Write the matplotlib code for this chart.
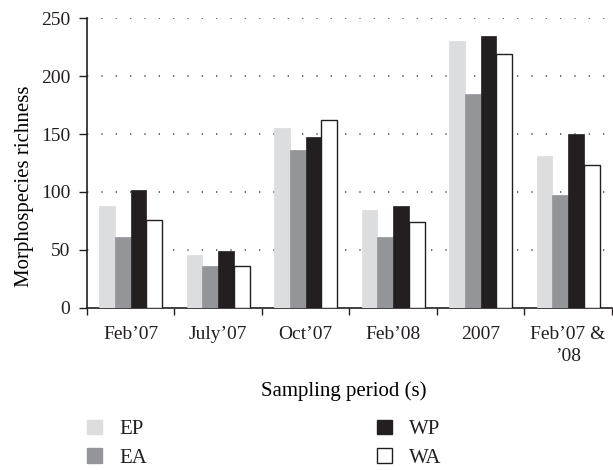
import numpy as np
import matplotlib
matplotlib.use("Agg")
import matplotlib.pyplot as plt
from matplotlib.patches import Patch

periods = ["Feb\u201907", "July\u201907", "Oct\u201907", "Feb\u201908", "2007", "Feb\u201907 &\n\u201908"]
series = ["EP", "EA", "WP", "WA"]
ep = [88, 45, 155, 84, 230, 131]
ea = [61, 36, 136, 61, 185, 97]
wp = [102, 49, 147, 88, 235, 150]
wa = [76, 36, 162, 74, 219, 123]

ink = "#231f20"
colors = ["#dcdddf", "#939598", ink, "white"]
edges = ["#dcdddf", "#939598", ink, ink]

plt.rcParams["font.family"] = ["Liberation Serif", "DejaVu Serif"]
plt.rcParams["font.size"] = 14
plt.rcParams["text.color"] = ink

fig = plt.figure(figsize=(6.13, 4.70), dpi=100)
ax = fig.add_axes([0.1416, 0.3457, 0.8565, 0.6153])

x = np.arange(len(periods))
w = 0.18
for i, (vals, c, e) in enumerate(zip([ep, ea, wp, wa], colors, edges)):
    ax.bar(x + (i - 1.5) * w, vals, w, color=c, edgecolor=e,
           linewidth=1.0 if i == 3 else 0.5, zorder=3)

ax.set_xlim(-0.5, len(periods) - 0.5)
ax.set_ylim(0, 250)
ax.set_yticks([0, 50, 100, 150, 200, 250])
ax.set_xticks(x)
ax.set_xticklabels(periods, color=ink, linespacing=1.45)
ax.set_xticks(np.arange(-0.5, len(periods)), minor=True)
ax.tick_params(axis="x", which="major", length=0, pad=13)
ax.tick_params(axis="x", which="minor", length=5, width=1, color=ink, direction="out")
ax.tick_params(axis="y", length=6, width=1, color=ink, labelcolor=ink, pad=6)

for s in ["top", "right"]:
    ax.spines[s].set_visible(False)
for s in ["left", "bottom"]:
    ax.spines[s].set_color(ink)
    ax.spines[s].set_linewidth(1.2)

for yv in [50, 100, 150, 200, 250]:
    ax.axhline(yv, color="#555555", linewidth=1.2, linestyle=(0, (0.8, 7.8)), zorder=1)

ax.set_ylabel("Morphospecies richness", fontsize=15)
ax.yaxis.set_label_coords(-0.100, 0.418)
ax.set_xlabel("Sampling period (s)", fontsize=15)
ax.xaxis.set_label_coords(0.49, -0.255)

kw = dict(frameon=False, loc="upper left", handlelength=0.75, handleheight=0.68,
          handletextpad=0.8, labelspacing=0.42, borderpad=0, borderaxespad=0,
          fontsize=15)
h = [Patch(facecolor=c, edgecolor=e, linewidth=1.0) for c, e in zip(colors, edges)]
fig.legend(h[:2], series[:2], bbox_to_anchor=(86.8 / 613, 1 - 420 / 470), **kw)
fig.legend(h[2:], series[2:], bbox_to_anchor=(376.5 / 613, 1 - 420 / 470), **kw)

fig.savefig("out.png", dpi=100)
